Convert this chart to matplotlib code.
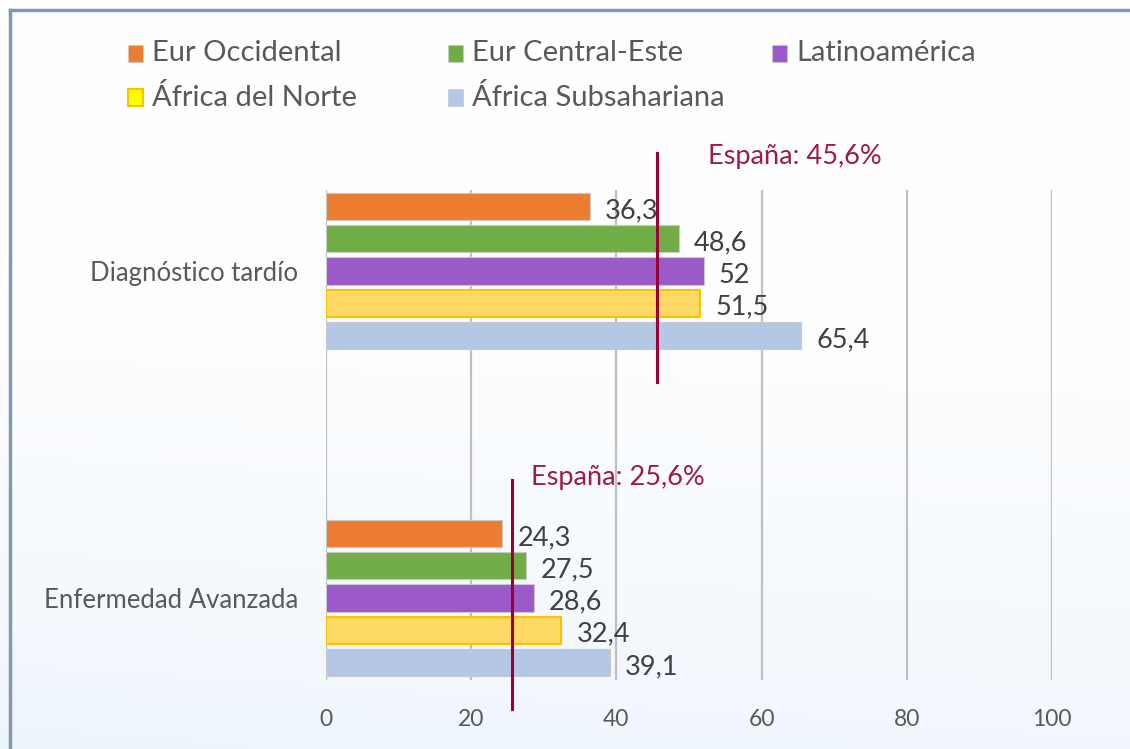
import numpy as np
import matplotlib
matplotlib.use("Agg")
import matplotlib.pyplot as plt
from matplotlib.lines import Line2D
from matplotlib.patches import Rectangle

plt.rcParams["font.family"] = ["Lato", "DejaVu Sans"]

# data
categories = ["Diagnóstico tardío", "Enfermedad Avanzada"]
series_names = ["Eur Occidental", "Eur Central-Este", "Latinoamérica",
                "África del Norte", "África Subsahariana"]
diag_tardio = [36.3, 48.6, 52, 51.5, 65.4]
enf_avanzada = [24.3, 27.5, 28.6, 32.4, 39.1]
espana = [45.6, 25.6]
espana_labels = ["España: 45,6%", "España: 25,6%"]
x_ticks = [0, 20, 40, 60, 80, 100]

fills = ["#ED7D31", "#70AD47", "#9B59C9", "#FFD966", "#B4C7E7"]
edges = ["#C9C9C9", "#C9C9C9", "#C9C9C9", "#FFC000", "#C9C9C9"]
legend_fills = ["#ED7D31", "#70AD47", "#9B59C9", "#FFFF00", "#B4C7E7"]

W, H = 1130, 749
fig = plt.figure(figsize=(W / 100, H / 100), dpi=100)

# soft background
bg = fig.add_axes([0, 0, 1, 1], zorder=-10)
yy, xx = np.mgrid[0:1:200j, 0:1:300j]
t = np.clip(0.7 * yy + 0.3 * (1 - xx) * yy + 0.2 * xx * yy, 0, 1) ** 2.2
c0 = np.array([1.0, 1.0, 1.0])
c1 = np.array([0.93, 0.96, 0.99])
img = c0 + (c1 - c0) * t[..., None]
bg.imshow(img, extent=[0, 1, 0, 1], aspect="auto", origin="upper")
bg.axis("off")

# frame lines (top and left)
fig.add_artist(Line2D([10 / W, 1], [1 - 10 / H, 1 - 10 / H],
                      color="#8497B0", lw=2.5, transform=fig.transFigure))
fig.add_artist(Line2D([10 / W, 10 / W], [0, 1 - 10 / H],
                      color="#8497B0", lw=2.5, transform=fig.transFigure))

ax = fig.add_axes([326 / W, 69 / H, 726 / W, 490 / H])
ax.patch.set_alpha(0)

n = len(series_names)
pitch = 0.0982
bar_h = 0.083
values = np.array([diag_tardio, enf_avanzada])
pos = np.arange(len(categories))

for i in range(n):
    ys = pos + (i - (n - 1) / 2) * pitch
    lw = 1.5 if i == 3 else 0.8
    ax.barh(ys, values[:, i], height=bar_h, color=fills[i],
            edgecolor=edges[i], linewidth=lw, zorder=3)
    for y, v in zip(ys, values[:, i]):
        txt = f"{v:g}".replace(".", ",")
        ax.annotate(txt, (v, y), xytext=(11, -3), textcoords="offset points",
                    ha="left", va="center", fontsize=19.5, color="#404040",
                    zorder=5)

# Spain reference lines
for k, (v, lab) in enumerate(zip(espana, espana_labels)):
    ax.plot([v, v], [pos[k] - 0.36, pos[k] + 0.34], color="#990033",
            lw=2.2, clip_on=False, zorder=6)
ax.annotate(espana_labels[0], (espana[0], pos[0] - 0.35), xytext=(37, 0),
            textcoords="offset points", ha="left", va="center",
            fontsize=19.5, color="#9E1A47", annotation_clip=False)
ax.annotate(espana_labels[1], (espana[1], pos[1] - 0.367), xytext=(14, 0),
            textcoords="offset points", ha="left", va="center",
            fontsize=19.5, color="#9E1A47", annotation_clip=False)

ax.set_xlim(0, 100)
ax.set_ylim(1 + 82 / 327, -81 / 327)
ax.set_xticks(x_ticks)
ax.set_xticklabels([str(v) for v in x_ticks])
ax.set_yticks(pos)
ax.set_yticklabels(categories)
ax.tick_params(axis="x", length=0, labelsize=16.5, colors="#595959", pad=21)
ax.tick_params(axis="y", length=0, labelsize=18.5, colors="#595959", pad=20)
ax.grid(axis="x", color="#BFBFBF", lw=1.6, zorder=0)
for s in ax.spines.values():
    s.set_visible(False)

# legend drawn by hand at its spot
leg_x = [128, 448, 772]
leg_y = [53, 97]
for i, name in enumerate(series_names):
    x0 = leg_x[i % 3]
    y0 = leg_y[i // 3]
    lw = 1.5 if i == 3 else 0.5
    fig.add_artist(Rectangle((x0 / W, 1 - (y0 + 9) / H), 15 / W, 17 / H,
                             facecolor=legend_fills[i], edgecolor=edges[i],
                             lw=lw, transform=fig.transFigure))
    fig.text((x0 + 24) / W, 1 - y0 / H, name, ha="left", va="center",
             fontsize=21, color="#595959")

fig.savefig("out.png", dpi=100)
